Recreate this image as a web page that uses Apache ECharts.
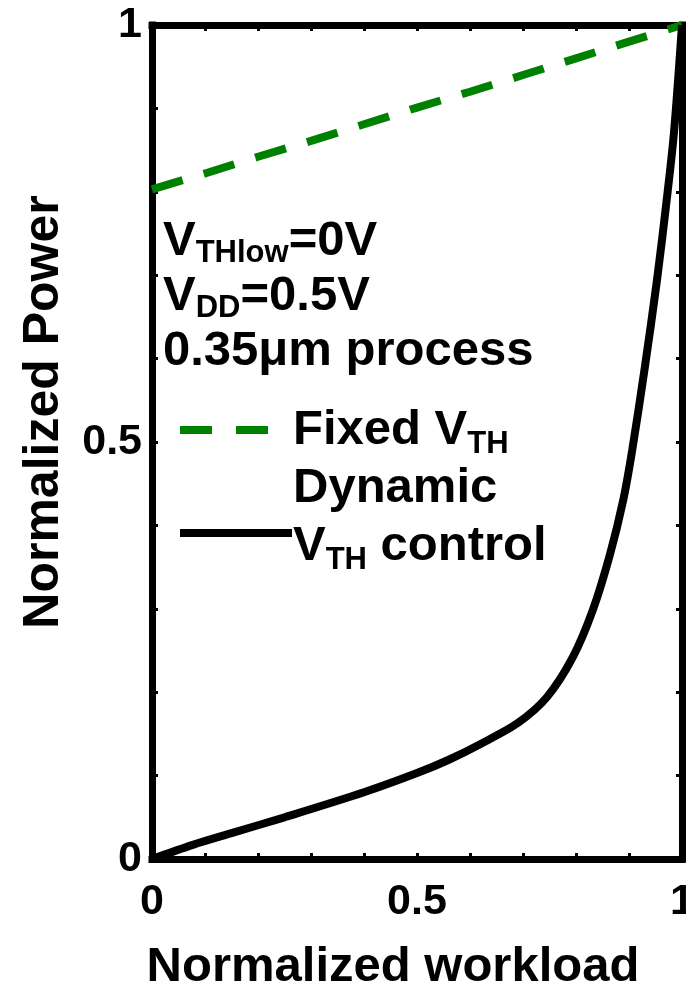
<!DOCTYPE html>
<html>
<head>
<meta charset="utf-8">
<script src="https://cdn.jsdelivr.net/npm/echarts@6/dist/echarts.min.js"></script>
<style>
html,body{margin:0;padding:0;background:#fff;}
#chart{width:686px;height:990px;}
</style>
</head>
<body>
<div id="chart"></div>
<script>
// ---- data ----
var fixedX = [0, 0.1, 0.2, 0.3, 0.4, 0.5, 0.6, 0.7, 0.8, 0.9, 1];
var fixedY = [0.803, 0.822, 0.842, 0.861, 0.881, 0.901, 0.920, 0.940, 0.960, 0.980, 1.0];
var dynX = [0, 0.077, 0.15, 0.25, 0.4, 0.5, 0.56, 0.62, 0.69, 0.745, 0.794, 0.832, 0.864, 0.889, 0.906, 0.93, 0.953, 0.972, 0.985, 1];
var dynY = [0, 0.017, 0.031, 0.050, 0.080, 0.103, 0.119, 0.138, 0.163, 0.194, 0.242, 0.299, 0.365, 0.430, 0.490, 0.590, 0.695, 0.795, 0.872, 1];
var tickLabels = ['0', '0.5', '1'];
var seriesNames = ['Fixed VTH', 'Dynamic VTH control'];

var FONT = 'Liberation Sans';
function pair(xs, ys){ return xs.map(function(x,i){ return [x, ys[i]]; }); }
function fmt(v){
  for (var i=0;i<tickLabels.length;i++){ if (Math.abs(v - parseFloat(tickLabels[i])) < 1e-9) return tickLabels[i]; }
  return '';
}
var axisLineStyle = {color:'#000', width:7, cap:'square'};
var tickStyle = {show:true, inside:true, length:6, lineStyle:{color:'#000', width:3}};
var labelStyle = {color:'#000', fontFamily:FONT, fontWeight:'bold', fontSize:43};

var chart = echarts.init(document.getElementById('chart'), null, {renderer:'canvas'});
var sub = {fontSize:31, fontFamily:FONT, fontWeight:'bold', color:'#000', verticalAlign:'bottom', lineHeight:8};
var main = {fontSize:49, fontFamily:FONT, fontWeight:'bold', color:'#000', lineHeight:55};

chart.setOption({
  animation:false,
  backgroundColor:'#fff',
  grid:{left:152, right:4, top:25, bottom:131, containLabel:false, outerBoundsMode:'none'},
  xAxis:[{
    type:'value', min:0, max:1, interval:0.1, position:'bottom',
    axisLine:{show:true, onZero:false, lineStyle:axisLineStyle},
    axisTick:tickStyle,
    axisLabel:Object.assign({formatter:fmt, margin:22, showMinLabel:true, showMaxLabel:true, hideOverlap:false}, labelStyle),
    splitLine:{show:false},
    name:'Normalized workload', nameLocation:'middle', nameGap:84,
    nameTextStyle:{color:'#000', fontFamily:FONT, fontWeight:'bold', fontSize:49, padding:[0,48,0,0]}
  },{
    type:'value', min:0, max:1, interval:0.1, position:'top',
    axisLine:{show:true, onZero:false, lineStyle:axisLineStyle},
    axisTick:tickStyle, axisLabel:{show:false}, splitLine:{show:false}
  }],
  yAxis:[{
    type:'value', min:0, max:1, interval:0.1, position:'left',
    axisLine:{show:true, onZero:false, lineStyle:axisLineStyle},
    axisTick:tickStyle,
    axisLabel:Object.assign({formatter:fmt, margin:10, showMinLabel:true, showMaxLabel:true, hideOverlap:false}, labelStyle),
    splitLine:{show:false},
    name:'Normalized Power', nameLocation:'middle', nameGap:83, nameRotate:90,
    nameTextStyle:{color:'#000', fontFamily:FONT, fontWeight:'bold', fontSize:50, padding:[0,0,0,60]}
  },{
    type:'value', min:0, max:1, interval:0.1, position:'right',
    axisLine:{show:true, onZero:false, lineStyle:axisLineStyle},
    axisTick:tickStyle, axisLabel:{show:false}, splitLine:{show:false}
  }],
  series:[{
    name:seriesNames[0], type:'line', data:pair(fixedX, fixedY), showSymbol:false, symbol:'none',
    lineStyle:{color:'#008000', width:8, type:[32,22]}, z:3
  },{
    name:seriesNames[1], type:'line', data:pair(dynX, dynY), showSymbol:false, symbol:'none', smooth:0.3,
    lineStyle:{color:'#000', width:8}, z:4
  }],
  graphic:[
    {type:'text', left:163, top:217, z:10, style:{
      text:'{m|V}{s|THlow}{m|=0V}\n{m|V}{s|DD}{m|=0.5V}\n{m|0.35μm process}',
      rich:{m:main, s:sub}
    }},
    {type:'line', z:10, shape:{x1:180, y1:430, x2:268, y2:430}, style:{stroke:'#008000', lineWidth:8, lineDash:[32,24]}},
    {type:'line', z:10, shape:{x1:180, y1:533, x2:292, y2:533}, style:{stroke:'#000', lineWidth:8}},
    {type:'text', left:293, top:406, z:10, style:{
      text:'{m|Fixed V}{s|TH}\n{m|Dynamic}\n{m|V}{s|TH}{m| control}',
      rich:{m:Object.assign({}, main, {lineHeight:58}), s:sub}
    }}
  ]
});
</script>
</body>
</html>
